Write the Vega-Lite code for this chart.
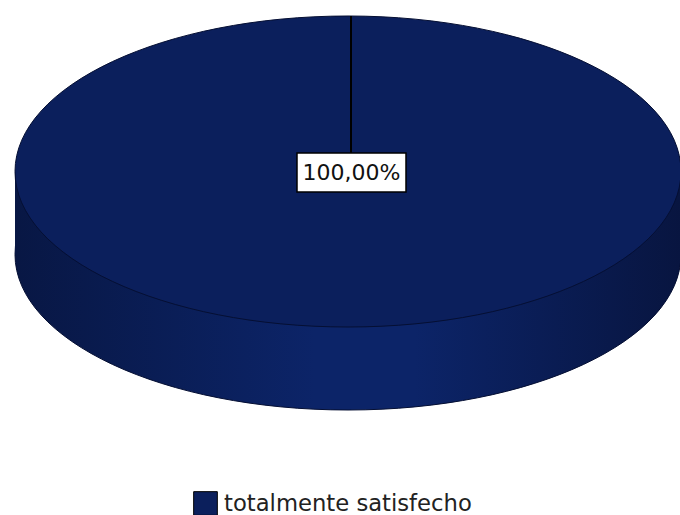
{
  "$schema": "https://vega.github.io/schema/vega-lite/v6.json",
  "width": 680,
  "height": 515,
  "autosize": "none",
  "padding": 0,
  "background": "white",
  "config": {"view": {"stroke": null}},
  "data": {"values": [{"categoria": "totalmente satisfecho", "porcentaje": 100, "etiqueta": "100,00%"}]},
  "layer": [
    {
      "mark": {
        "type": "point", "filled": true, "size": 443556,
        "shape": "M-1,0C-1,-0.2579,-0.5523,-0.467,0,-0.467C0.5523,-0.467,1,-0.2579,1,0C1,0.2579,0.5523,0.467,0,0.467C-0.5523,0.467,-1,0.2579,-1,0Z",
        "fill": {"gradient": "linear", "x1": 0, "x2": 1, "y1": 0, "y2": 0, "stops": [
          {"offset": 0, "color": "#081744"}, {"offset": 0.45, "color": "#0c2468"}, {"offset": 0.6, "color": "#0c2468"}, {"offset": 1, "color": "#081540"}]},
        "stroke": "#050f33", "strokeWidth": 1, "opacity": 1
      },
      "encoding": {
        "x": {"datum": 0, "type": "quantitative", "scale": {"domain": [-1.04505, 0.997], "nice": false, "zero": false}, "axis": null},
        "y": {"datum": -0.24925, "type": "quantitative", "scale": {"domain": [-1.03153, 0.51502], "nice": false, "zero": false}, "axis": null}
      }
    },
    {
      "mark": {
        "type": "rect",
        "fill": {"gradient": "linear", "x1": 0, "x2": 1, "y1": 0, "y2": 0, "stops": [
          {"offset": 0, "color": "#081744"}, {"offset": 0.45, "color": "#0c2468"}, {"offset": 0.6, "color": "#0c2468"}, {"offset": 1, "color": "#081540"}]},
        "strokeWidth": 0
      },
      "encoding": {
        "x": {"datum": -1, "type": "quantitative", "scale": {"domain": [-1.04505, 0.997], "nice": false, "zero": false}, "axis": null},
        "x2": {"datum": 1},
        "y": {"datum": 0, "type": "quantitative", "scale": {"domain": [-1.03153, 0.51502], "nice": false, "zero": false}, "axis": null},
        "y2": {"datum": -0.24925}
      }
    },
    {
      "mark": {
        "type": "point", "filled": true, "size": 443556,
        "shape": "M-1,0C-1,-0.2579,-0.5523,-0.467,0,-0.467C0.5523,-0.467,1,-0.2579,1,0C1,0.2579,0.5523,0.467,0,0.467C-0.5523,0.467,-1,0.2579,-1,0Z",
        "stroke": "#050f33", "strokeWidth": 1, "opacity": 1
      },
      "encoding": {
        "x": {"datum": 0, "type": "quantitative", "scale": {"domain": [-1.04505, 0.997], "nice": false, "zero": false}, "axis": null},
        "y": {"datum": 0, "type": "quantitative", "scale": {"domain": [-1.03153, 0.51502], "nice": false, "zero": false}, "axis": null},
        "color": {
          "field": "categoria", "type": "nominal",
          "scale": {"domain": ["totalmente satisfecho"], "range": ["#0b1f5c"]},
          "legend": {
            "title": null, "orient": "none", "legendX": 193, "legendY": 491,
            "symbolType": "square", "symbolSize": 560, "symbolStrokeColor": "#000000", "symbolStrokeWidth": 1,
            "symbolOpacity": 1,
            "labelFont": "DejaVu Sans", "labelFontSize": 22.7, "labelColor": "#222222", "labelOffset": 6, "labelLimit": 400
          }
        }
      }
    },
    {
      "mark": {"type": "rule", "color": "#000000", "strokeWidth": 2},
      "encoding": {
        "x": {"datum": 0.009, "type": "quantitative", "scale": {"domain": [-1.04505, 0.997], "nice": false, "zero": false}, "axis": null},
        "y": {"datum": 0, "type": "quantitative", "scale": {"domain": [-1.03153, 0.51502], "nice": false, "zero": false}, "axis": null},
        "y2": {"datum": 0.467}
      }
    },
    {
      "mark": {
        "type": "point", "filled": true, "size": 11881,
        "shape": "M-1,-0.358L1,-0.358L1,0.358L-1,0.358Z",
        "fill": "#ffffff", "stroke": "#000000", "strokeWidth": 1.5, "opacity": 1
      },
      "encoding": {
        "x": {"datum": 0.0105, "type": "quantitative", "scale": {"domain": [-1.04505, 0.997], "nice": false, "zero": false}, "axis": null},
        "y": {"datum": -0.003, "type": "quantitative", "scale": {"domain": [-1.03153, 0.51502], "nice": false, "zero": false}, "axis": null}
      }
    },
    {
      "mark": {"type": "text", "font": "DejaVu Sans", "fontSize": 22, "color": "#111111", "align": "center", "baseline": "middle"},
      "encoding": {
        "x": {"datum": 0.0105, "type": "quantitative", "scale": {"domain": [-1.04505, 0.997], "nice": false, "zero": false}, "axis": null},
        "y": {"datum": -0.003, "type": "quantitative", "scale": {"domain": [-1.03153, 0.51502], "nice": false, "zero": false}, "axis": null},
        "text": {"field": "etiqueta", "type": "nominal"}
      }
    }
  ]
}
